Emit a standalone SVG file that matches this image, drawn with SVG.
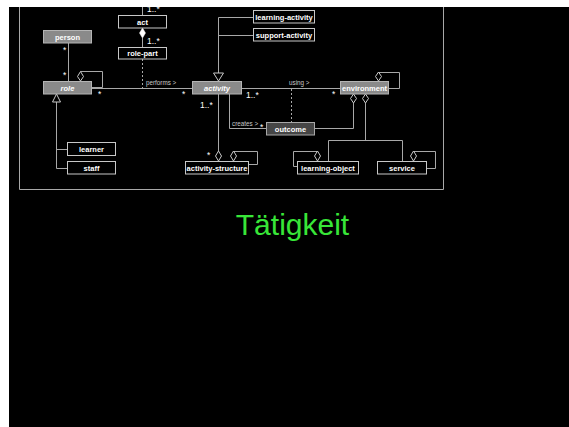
<svg xmlns="http://www.w3.org/2000/svg" width="569" height="427" viewBox="0 0 569 427">
<style>
.box{fill:#000;stroke:#c8c8c8;stroke-width:1}
.gbox{fill:#8a8a8a;stroke:#b4b4b4;stroke-width:1}
.obox{fill:#464646;stroke:#a8a8a8;stroke-width:1}
.t{font-family:"Liberation Sans",Arial,sans-serif;font-size:7.5px;font-weight:bold;fill:#fff;text-anchor:middle}
.ti{font-style:italic;font-weight:bold}
.ln{stroke:#a8a8a8;stroke-width:1;fill:none}
.dash{stroke-dasharray:2,2}
.hd{fill:#000;stroke:#c8c8c8;stroke-width:1}
.fd{fill:#fff;stroke:#fff;stroke-width:0.5}
.lbl{font-family:"Liberation Sans",Arial,sans-serif;font-size:6.3px;fill:#c8c8c8}
.m{font-family:"Liberation Sans",Arial,sans-serif;font-size:8.5px;fill:#fff}
.title{font-family:"Liberation Sans",Arial,sans-serif;font-size:30px;fill:#38e638;text-anchor:middle}
</style>
<defs>
<clipPath id="clip"><rect x="9" y="7" width="560" height="420"/></clipPath>
</defs>
<rect x="0" y="0" width="569" height="427" fill="#fff"/>
<rect x="9" y="7" width="560" height="420" fill="#000"/>
<g clip-path="url(#clip)">
<g id="connectors">
<path class="ln" d="M19.5,0 V189.5 H443.5 V0"/>
<path class="ln" d="M142.5,0 V16"/>
<path class="ln" d="M142.5,38 V47"/>
<polygon class="fd" points="142.5,28 145.5,33 142.5,38 139.5,33"/>
<path class="ln dash" d="M142.5,59 V88"/>
<path class="ln" d="M92,88.5 H192"/>
<path class="ln" d="M68.5,43 V81"/>
<path class="ln" d="M80.5,71.5 H102.5 V87.5 H92"/>
<polygon class="hd" points="80.5,71.5 83.5,76.5 80.5,81 77.5,76.5"/>
<path class="ln" d="M56.5,102 V168.5 H67 M56.5,149.5 H67"/>
<polygon class="hd" points="56.5,94 60.5,102 52.5,102"/>
<path class="ln" d="M218.5,73 V17.5 H253 M218.5,35.5 H253"/>
<polygon class="hd" points="218.5,81 213.5,73 223.5,73"/>
<path class="ln" d="M242,88.5 H340"/>
<path class="ln dash" d="M291.5,89 V122"/>
<path class="ln" d="M229.5,94 V128.5 H266"/>
<path class="ln" d="M218.5,94 V151"/>
<polygon class="hd" points="218.5,151 221.5,156 218.5,161 215.5,156"/>
<path class="ln" d="M233.5,151.5 H257.5 V164.5 H249"/>
<polygon class="hd" points="233.5,151 236.5,156 233.5,161 230.5,156"/>
<path class="ln" d="M378.5,72.5 H399.5 V88.5 H389"/>
<polygon class="hd" points="378.5,72 381.5,76.5 378.5,81 375.5,76.5"/>
<path class="ln" d="M353.5,103 V128.5 H315"/>
<polygon class="hd" points="353.5,94 356.5,98.5 353.5,103 350.5,98.5"/>
<path class="ln" d="M365.5,103 V140.5 M328.5,161 V140.5 H402.5 V161"/>
<polygon class="hd" points="365.5,94 368.5,98.5 365.5,103 362.5,98.5"/>
<path class="ln" d="M317.5,151.5 H293.5 V166.5 H297"/>
<polygon class="hd" points="317.5,151 320.5,156 317.5,161 314.5,156"/>
<path class="ln" d="M413.5,151.5 H435.5 V168.5 H427"/>
<polygon class="hd" points="413.5,151 416.5,156 413.5,161 410.5,156"/>
<text class="m" x="147" y="12">1..*</text>
<text class="m" x="147" y="44">1..*</text>
<text class="m" x="98" y="97">*</text>
<text class="m" x="182" y="97">*</text>
<text class="m" x="63" y="53">*</text>
<text class="m" x="63" y="78">*</text>
<text class="lbl" x="146" y="85">performs &gt;</text>
<text class="m" x="246" y="98">1..*</text>
<text class="lbl" x="289" y="85">using &gt;</text>
<text class="m" x="332" y="97">*</text>
<text class="m" x="200" y="108">1..*</text>
<text class="lbl" x="232" y="126">creates &gt;</text>
<text class="m" x="260" y="130">*</text>
<text class="m" x="207" y="158">*</text>
</g>
<g id="act"><rect class="box" x="118.5" y="15.5" width="48" height="12.5"/><text class="t" x="142.5" y="24.5">act</text></g>
<g id="role-part"><rect class="box" x="118.5" y="47.5" width="48" height="11.5"/><text class="t" x="142.5" y="56">role-part</text></g>
<g id="person"><rect class="gbox" x="43.5" y="30.5" width="48" height="12.5"/><text class="t" x="67.5" y="39.5">person</text></g>
<g id="role"><rect class="gbox" x="43.5" y="81.5" width="48" height="12.5"/><text class="t ti" x="67.5" y="90.5">role</text></g>
<g id="activity"><rect class="gbox" x="192.5" y="81.5" width="49" height="12.5"/><text class="t ti" x="217" y="90.5">activity</text></g>
<g id="environment"><rect class="gbox" x="340.5" y="81.5" width="48" height="12.5"/><text class="t" x="364.5" y="90.5">environment</text></g>
<g id="learning-activity"><rect class="box" x="253.5" y="10.5" width="61" height="12.5"/><text class="t" x="284" y="19.5">learning-activity</text></g>
<g id="support-activity"><rect class="box" x="253.5" y="28.5" width="61" height="12.5"/><text class="t" x="284" y="37.5">support-activity</text></g>
<g id="outcome"><rect class="obox" x="266.5" y="122.5" width="48" height="12.5"/><text class="t" x="290.5" y="131.5">outcome</text></g>
<g id="learner"><rect class="box" x="67.5" y="142.5" width="48" height="13"/><text class="t" x="91.5" y="151.5">learner</text></g>
<g id="staff"><rect class="box" x="67.5" y="161.5" width="48" height="12.5"/><text class="t" x="91.5" y="170.5">staff</text></g>
<g id="activity-structure"><rect class="box" x="185.5" y="161.5" width="63" height="12.5"/><text class="t" x="217" y="170.5">activity-structure</text></g>
<g id="learning-object"><rect class="box" x="297.5" y="161.5" width="61" height="12.5"/><text class="t" x="328" y="170.5">learning-object</text></g>
<g id="service"><rect class="box" x="377.5" y="161.5" width="49" height="12.5"/><text class="t" x="402" y="170.5">service</text></g>
</g>
<text class="title" x="292.5" y="234.5">Tätigkeit</text>
</svg>
